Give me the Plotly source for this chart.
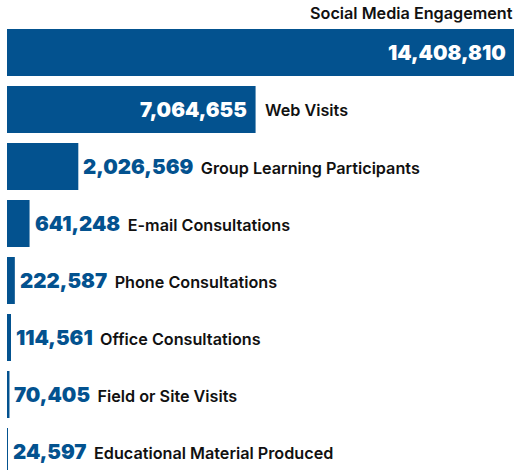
import plotly.graph_objects as go

categories = ["Social Media Engagement", "Web Visits", "Group Learning Participants",
              "E-mail Consultations", "Phone Consultations", "Office Consultations",
              "Field or Site Visits", "Educational Material Produced"]
values = [14408810, 7064655, 2026569, 641248, 222587, 114561, 70405, 24597]

BLUE = "#03528F"
DARK = "#111111"
VAL_FONT = "Inter"
LAB_FONT = "Inter"
VSIZE = 20.5
LSIZE = 16.2

fig = go.Figure(go.Bar(
    x=values, y=categories, orientation="h",
    marker=dict(color=BLUE, line=dict(width=0)),
    hoverinfo="skip",
))

annotations = []
for i, (c, v) in enumerate(zip(categories, values)):
    vs = f"{v:,}"
    if i == 0:
        annotations.append(dict(x=v, y=i, xref="x", yref="y", text=vs, showarrow=False,
                                xanchor="right", xshift=-6,
                                font=dict(family=VAL_FONT, size=VSIZE, color="white", weight=900)))
        annotations.append(dict(x=v, y=-0.5, xref="x", yref="y", text=c, showarrow=False,
                                xanchor="right", yanchor="bottom", xshift=1, yshift=-1,
                                font=dict(family=LAB_FONT, size=LSIZE, color=DARK, weight=600)))
    elif i == 1:
        annotations.append(dict(x=v, y=i, xref="x", yref="y", text=vs, showarrow=False,
                                xanchor="right", xshift=-7,
                                font=dict(family=VAL_FONT, size=VSIZE, color="white", weight=900)))
        annotations.append(dict(x=v, y=i, xref="x", yref="y", text=c, showarrow=False,
                                xanchor="left", xshift=7,
                                font=dict(family=LAB_FONT, size=LSIZE, color=DARK, weight=600)))
    else:
        txt = (f"<span style='font-family:{VAL_FONT};font-size:{VSIZE}px;font-weight:900;color:{BLUE}'>{vs}</span>"
               f"<span style='font-size:12px'> </span>"
               f"<span style='font-family:{LAB_FONT};font-size:{LSIZE}px;font-weight:600;color:{DARK}'> {c}</span>")
        annotations.append(dict(x=v, y=i, xref="x", yref="y", text=txt, showarrow=False,
                                xanchor="left", xshift=3,
                                font=dict(family=LAB_FONT, size=LSIZE, color=DARK)))

fig.update_layout(
    width=514, height=470,
    margin=dict(l=7, r=0, t=24, b=0),
    paper_bgcolor="white", plot_bgcolor="white",
    bargap=0.175,
    showlegend=False,
    xaxis=dict(visible=False, range=[0, values[0]], fixedrange=True),
    yaxis=dict(visible=False, type="category", categoryorder="array", categoryarray=categories,
               range=[7.3246, -0.5], fixedrange=True),
    annotations=annotations,
)

fig.write_html("out.html", config={"displayModeBar": False},
               post_script="document.body.style.margin='0';document.body.style.overflow='hidden';")
